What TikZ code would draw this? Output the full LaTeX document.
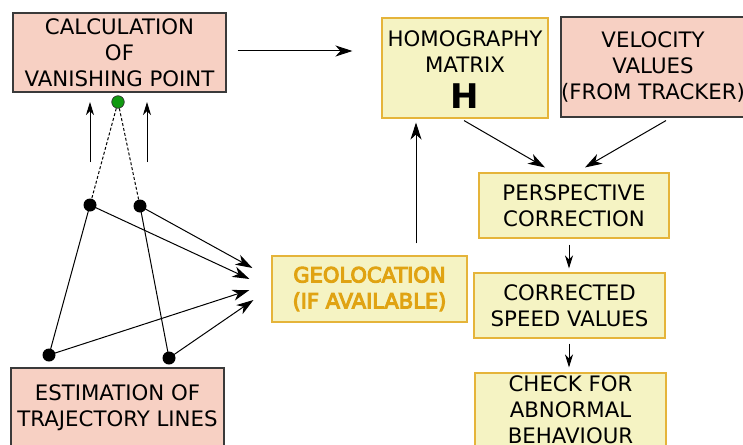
\documentclass[tikz,border=0pt]{standalone}
\usepackage{fontspec}
\setmainfont{DejaVu Sans}
\font\geofnt="DejaVu Sans:embolden=5" at 21pt
\newcommand\geostyle{\geofnt\baselineskip=26pt\relax}
\usetikzlibrary{arrows.meta}
\definecolor{salmon}{HTML}{F7D0C3}
\definecolor{salmonline}{HTML}{3A3A3A}
\definecolor{pale}{HTML}{F5F3C3}
\definecolor{paleline}{HTML}{E5B43A}
\definecolor{geotext}{HTML}{E0A312}
\definecolor{vpgreen}{HTML}{109A10}
\tikzset{
  every node/.style={font=\fontsize{21.3}{26}\selectfont, align=center, inner sep=0pt},
  redbox/.style={draw=salmonline, fill=salmon, line width=1.1pt},
  yelbox/.style={draw=paleline, fill=pale, line width=1.1pt},
  dot/.style={circle, fill=black, minimum size=13pt},
  gdot/.style={circle, fill=vpgreen, draw=black!80, line width=0.7pt, minimum size=12.5pt},
  arr/.style={line width=1pt, -{Stealth[length=17pt, width=11pt, inset=5pt]}},
  sarr/.style={line width=1pt, -{Stealth[length=13pt, width=8pt, inset=4pt]}},
  ln/.style={line width=1pt},
}
\begin{document}
\begin{tikzpicture}[x=1pt, y=-1pt]
\useasboundingbox (0,0) rectangle (743,444);
% boxes
\node[redbox, minimum width=213pt, minimum height=79pt] (calc) at (119.5,52.5) {CALCULATION\\OF\\VANISHING POINT};
\node[yelbox, minimum width=166pt, minimum height=100pt] (homog) at (465,68) {\rule{0pt}{18pt}HOMOGRAPHY\\MATRIX\\[10pt]{\fontsize{34}{36}\selectfont\bfseries H}};
\node[redbox, minimum width=184pt, minimum height=100pt] (velo) at (653,67) {VELOCITY\\VALUES\\(FROM TRACKER)};
\node[yelbox, minimum width=190pt, minimum height=65pt] (persp) at (574,205.5) {PERSPECTIVE\\CORRECTION};
\node[yelbox, minimum width=195pt, minimum height=66pt, text=geotext, font=\geostyle] (geo) at (369.5,289) {GEOLOCATION\\(IF AVAILABLE)};
\node[yelbox, minimum width=191pt, minimum height=65pt] (corr) at (569.5,305.5) {CORRECTED\\SPEED VALUES};
\node[yelbox, minimum width=191pt, minimum height=74pt] (check) at (570.5,410) {CHECK FOR\\ABNORMAL\\BEHAVIOUR};
\node[redbox, minimum width=213pt, minimum height=80pt] (estim) at (117.5,408) {ESTIMATION OF\\TRAJECTORY LINES};
% points
\node[gdot] (vp) at (118,102) {};
\node[dot] (d1) at (90,205) {};
\node[dot] (d2) at (140,206) {};
\node[dot] (d3) at (49,355) {};
\node[dot] (d4) at (169,358) {};
\draw[ln, dash pattern=on 3pt off 2pt] (vp) -- (d1);
\draw[ln, dash pattern=on 3pt off 2pt] (vp) -- (d2);
\draw[ln] (d1.center) -- (d3.center);
\draw[ln] (d2.center) -- (d4.center);
% arrows to geolocation
\draw[arr] (d1.center) -- ([xshift=-22pt,yshift=10pt]geo.west);
\draw[arr] (d2.center) -- ([xshift=-19pt,yshift=21pt]geo.west);
\draw[arr] (d3.center) -- ([xshift=-22pt,yshift=-1pt]geo.west);
\draw[arr] (d4.center) -- ([xshift=-18pt,yshift=-11pt]geo.west);
% small upward arrows
\coordinate (u1s) at (90,162);
\coordinate (u1e) at (90,102);
\coordinate (u2s) at (147,162);
\coordinate (u2e) at (147,102);
\draw[sarr] (u1s) -- (u1e);
\draw[sarr] (u2s) -- (u2e);
% main flow
\draw[arr] ([xshift=11pt,yshift=1.5pt]calc.east) -- ([xshift=-29pt,yshift=17pt]homog.west);
\draw[arr] ([xshift=46.5pt,yshift=12pt]geo.north) -- ([xshift=-49pt,yshift=-4pt]homog.south);
\draw[arr] ([xshift=-1pt,yshift=-2pt]homog.south) -- ([xshift=-29pt,yshift=5pt]persp.north);
\draw[arr] ([xshift=13pt,yshift=-3pt]velo.south) -- ([xshift=11pt,yshift=5pt]persp.north);
\draw[sarr] ([xshift=-5pt,yshift=-6pt]persp.south) -- ([xshift=-0.5pt,yshift=4pt]corr.north);
\draw[sarr] ([xshift=-0.5pt,yshift=-5pt]corr.south) -- ([xshift=-1.5pt,yshift=5pt]check.north);
\end{tikzpicture}
\end{document}
